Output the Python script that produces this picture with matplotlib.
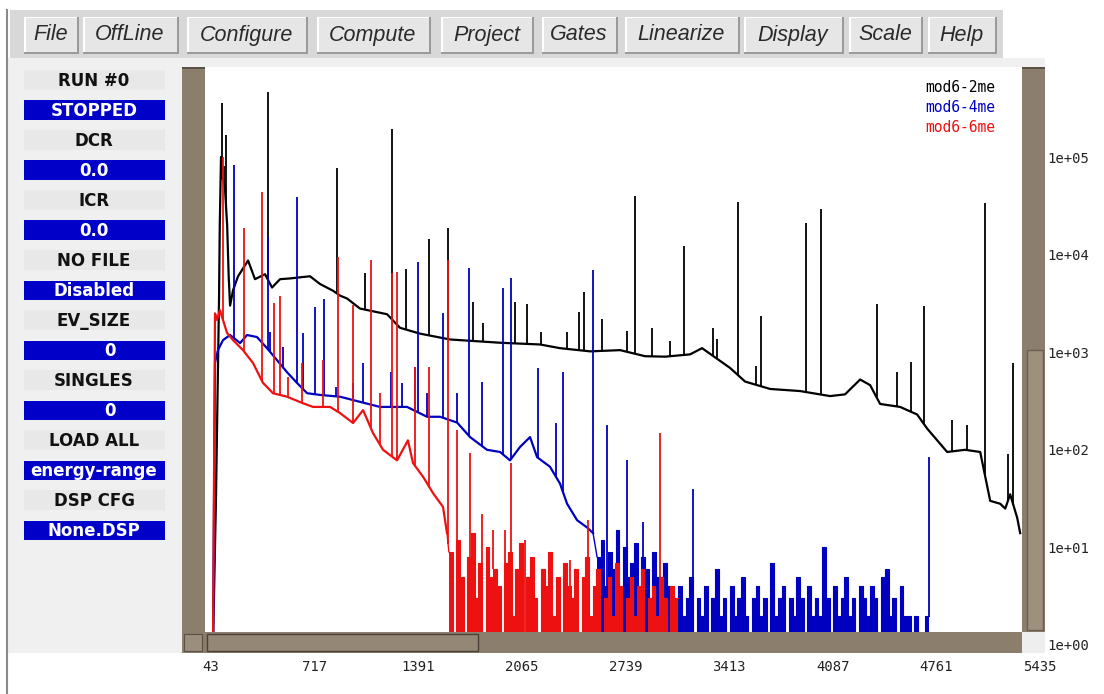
import numpy as np
import matplotlib
matplotlib.use('Agg')
import matplotlib.pyplot as plt
from matplotlib.patches import Rectangle
from matplotlib.lines import Line2D

# ── Spectrum data (channel, counts) ──
# counts of 1 mean an empty channel (sits on the bottom edge)
black_ch = [56, 75, 95, 100, 108, 120, 133, 148, 158, 167, 186, 219, 284, 329, 394, 440,
            492, 557, 687, 752, 837, 882, 928, 1012, 1188, 1272, 1402, 1598, 1923, 2183,
            2313, 2509, 2704, 2866, 2997, 3159, 3237, 3419, 3517, 3680, 3874, 4070, 4167,
            4265, 4330, 4395, 4525, 4636, 4701, 4831, 4948, 5046, 5111, 5176, 5209, 5241,
            5287, 5306]
black_counts = [1, 30, 3400, 20000, 100000, 60000, 50000, 20000, 6000, 3000, 4300, 6000,
                8700, 5600, 6300, 4600, 5600, 5700, 6000, 5000, 4260, 3800, 3550, 2800,
                2450, 1780, 1550, 1350, 1250, 1200, 1100, 1020, 1050, 910, 900, 950, 1100,
                690, 500, 420, 400, 355, 370, 525, 460, 295, 275, 230, 165, 95, 100, 95,
                30, 28, 25, 35, 20, 14]
black_peak_ch = [114, 127, 140, 414, 863, 1045, 1220, 1311, 1461, 1585, 1747, 1812, 2021,
                 2099, 2190, 2359, 2437, 2470, 2587, 2749, 2801, 2912, 3029, 3120, 3309,
                 3335, 3472, 3589, 3621, 3914, 4011, 4376, 4506, 4597, 4681, 4864, 4961,
                 5078, 5228, 5261]
black_peak_counts = [360000, 80000, 170000, 460000, 78000, 6500, 195000, 7200, 14500,
                     18600, 3300, 2000, 3300, 3100, 1600, 1600, 2600, 4100, 2200, 1660,
                     40000, 1780, 1300, 12300, 1780, 1380, 35000, 720, 2340, 21000, 29000,
                     3100, 630, 800, 2950, 200, 180, 34000, 90, 780]

blue_ch = [56, 69, 88, 121, 167, 232, 277, 342, 407, 472, 537, 602, 668, 752, 882, 1012,
           1142, 1318, 1448, 1533, 1644, 1728, 1838, 1923, 1988, 2053, 2118, 2164, 2248,
           2313, 2359, 2424, 2489, 2528]
blue_counts = [1, 776, 1050, 1330, 1500, 1240, 1500, 1430, 1100, 830, 625, 485, 380, 365,
               350, 310, 275, 275, 218, 218, 190, 135, 100, 95, 78, 107, 135, 84, 67, 45,
               28, 19, 16, 14]
blue_noise_start = 2554   # first channel of the low-count tail, 24-channel bins
blue_noise = [8, 12, 4, 9, 6, 15, 3, 10, 5, 7, 11, 4, 8, 6, 3, 9, 5, 2, 7, 4,
              3, 1, 4, 2, 3, 5, 1, 3, 2, 4, 1, 3, 6, 2, 3, 1, 4, 2, 3, 5,
              2, 1, 3, 4, 2, 3, 1, 7, 2, 3, 4, 1, 3, 2, 5, 3, 1, 4, 2, 3,
              2, 10, 3, 1, 4, 2, 3, 5, 2, 3, 1, 4, 3, 2, 4, 3, 1, 5, 6, 2,
              3, 1, 4, 2, 2, 1, 2, 1, 1, 2]
blue_peak_ch = [193, 414, 427, 511, 602, 641, 720, 778, 856, 967, 1032, 1214, 1285, 1370,
                1390, 1448, 1552, 1644, 1722, 1806, 1943, 1995, 2170, 2287, 2333, 2528,
                2619, 2749, 2854, 2919, 3179, 4714]
blue_peak_counts = [83000, 15000, 1600, 1130, 39000, 1580, 2900, 3500, 440, 485, 776, 625,
                    485, 700, 8400, 380, 2500, 380, 7300, 495, 4500, 5700, 690, 188, 625,
                    6900, 180, 78, 18, 9, 40, 84]

red_ch = [56, 69, 82, 101, 147, 186, 251, 316, 381, 446, 537, 641, 707, 817, 882, 967,
          1032, 1097, 1162, 1253, 1324, 1357, 1422, 1487, 1552, 1578]
red_counts = [1, 2500, 2140, 2700, 1580, 1330, 1050, 776, 485, 380, 350, 300, 275, 275,
              238, 188, 255, 148, 100, 78, 125, 73, 53, 36, 26, 14]
red_noise_start = 1590
red_noise = [9, 1, 12, 5, 1, 8, 14, 3, 7, 1, 10, 5, 6, 4, 1, 7, 9, 2, 6, 11,
             1, 5, 8, 3, 1, 6, 4, 9, 2, 5, 1, 7, 4, 3, 6, 1, 5, 8, 2, 4,
             6, 1, 3, 5, 2, 7, 4, 1, 3, 5, 2, 4, 6, 1, 3, 4, 2, 5, 3, 1, 4, 3]
red_peak_ch = [121, 258, 375, 453, 492, 544, 635, 772, 869, 967, 1084, 1142, 1220, 1253,
               1370, 1461, 1585, 1644, 1728, 1806, 1878, 1956, 1995, 2086, 2379, 2496, 2964]
red_peak_counts = [100000, 18600, 44000, 3200, 3800, 560, 776, 830, 9500, 3050, 8800, 380,
                   6500, 6700, 700, 700, 8800, 160, 93, 22, 15, 15, 73, 12, 7.4, 19, 150]
noise_bin = 24

series_names = ['mod6-2me', 'mod6-4me', 'mod6-6me']
xtick_vals = [43, 717, 1391, 2065, 2739, 3413, 4087, 4761, 5435]
ytick_vals = [1, 10, 100, 1000, 10000, 100000]
ytick_labels = ['1e+00', '1e+01', '1e+02', '1e+03', '1e+04', '1e+05']

menu_labels = ['File', 'OffLine', 'Configure', 'Compute', 'Project', 'Gates',
               'Linearize', 'Display', 'Scale', 'Help']
panel_labels = ['RUN #0', 'STOPPED', 'DCR', '0.0', 'ICR', '0.0', 'NO FILE', 'Disabled',
                'EV_SIZE', '0', 'SINGLES', '0', 'LOAD ALL', 'energy-range', 'DSP CFG',
                'None.DSP']

# ── Layout (pixels of the 1104x694 window) ──
W, H = 1104, 694
menu_x0 = [24, 83, 187, 317, 441, 542, 625, 744, 849, 928]
menu_x1 = [77, 177, 306, 429, 532, 616, 738, 842, 921, 995]
BROWN = '#8c7e6d'
DARK = '#5a5043'
BLUE_UI = '#0000c8'
C_BLACK, C_BLUE, C_RED = 'black', '#0000c0', '#ee1111'

fig = plt.figure(figsize=(W / 100, H / 100), dpi=100, facecolor='white')


def rect(x0, y0, x1, y1, fc, ec='none', lw=0, z=1):
    fig.add_artist(Rectangle((x0 / W, 1 - y1 / H), (x1 - x0) / W, (y1 - y0) / H,
                             transform=fig.transFigure, facecolor=fc, edgecolor=ec,
                             linewidth=lw, zorder=z))


def text(x, y, s, **kw):
    fig.text(x / W, 1 - y / H, s, **kw)


# window background + left border
rect(8, 58, 1045, 653, '#f0f0f0', z=-2)
fig.add_artist(Line2D([7 / W, 7 / W], [1 - 10 / H, 0], color='#8a8a8a', lw=1.5,
                      transform=fig.transFigure, zorder=5))

# ── Menu bar ──
rect(10, 10, 1003, 58, '#d8d8d8', z=1)
for lbl, x0, x1 in zip(menu_labels, menu_x0, menu_x1):
    rect(x0, 17, x1 + 2, 54, '#9a9a9a', z=2)
    rect(x0, 17, x1, 52, '#ffffff', z=2)
    rect(x0 + 1.5, 18.5, x1 - 0.5, 51.5, '#e6e6e6', z=2)
    text((x0 + x1) / 2, 35, lbl, ha='center', va='center', fontsize=15.5,
         family='Liberation Sans', style='italic', color='#2a2a2a', zorder=3)

# ── Status panel ──
for i, lbl in enumerate(panel_labels):
    yc = 80 + 30 * i
    if i % 2:
        rect(24, yc - 9.5, 165, yc + 9.5, BLUE_UI, z=2)
        col = 'white'
    else:
        rect(24, yc - 10, 165, yc + 10, '#e8e8e8', z=2)
        col = '#111111'
    xc = 110 if lbl == '0' else 94
    text(xc, yc + 6, lbl, ha='center', va='baseline', fontsize=12, family='DejaVu Sans',
         weight='bold', color=col, zorder=3)

# ── Spectrum axes ──
ax = fig.add_axes([204.4 / W, 1 - 645 / H, (1040 - 204.4) / W, (645 - 67) / H])
ax.set_facecolor('white')
ax.set_yscale('log')
ax.set_xlim(0, 5435)
ax.set_ylim(1, 8.36e5)

spectra = [
    (black_ch, black_counts, None, None, black_peak_ch, black_peak_counts, C_BLACK),
    (blue_ch, blue_counts, blue_noise_start, blue_noise, blue_peak_ch, blue_peak_counts, C_BLUE),
    (red_ch, red_counts, red_noise_start, red_noise, red_peak_ch, red_peak_counts, C_RED),
]
for z, (ch, counts, n0, noise, pk_ch, pk_counts, col) in enumerate(spectra):
    zz = 2 + z
    x = np.array(ch, float)
    y = np.array(counts, float)
    ax.plot(x, y, color=col, lw=1.6, zorder=zz)
    if noise is not None:
        edges = n0 + noise_bin * np.arange(len(noise) + 1)
        vals = np.array(noise + [noise[-1]], float)
        # join the smooth part to the first bin
        ax.plot([x[-1], edges[0]], [y[-1], vals[0]], color=col, lw=1.0, zorder=zz)
        ax.fill_between(edges, 1, vals, step='post', color=col, lw=0, zorder=zz)
        ax.step(edges, vals, where='post', color=col, lw=0.8, zorder=zz)
        x = np.concatenate([x, np.repeat(edges, 2)[1:-1]])
        y = np.concatenate([y, np.repeat(noise, 2)])
    base = 10 ** np.interp(pk_ch, x, np.log10(y))
    ax.vlines(pk_ch, base, pk_counts, color=col, lw=1.3, zorder=zz)

for s in ax.spines.values():
    s.set_visible(False)
ax.set_xticks(xtick_vals)
ax.set_xticklabels([str(v) for v in xtick_vals])
ax.yaxis.tick_right()
ax.set_yticks(ytick_vals)
ax.set_yticklabels(ytick_labels)
ax.set_yticks([], minor=True)
ax.tick_params(axis='x', length=0, pad=10.5, labelsize=10, labelcolor='#222222')
ax.tick_params(axis='y', length=0, pad=5, labelsize=10, labelcolor='#222222')
for t in ax.get_xticklabels() + ax.get_yticklabels():
    t.set_family('DejaVu Sans Mono')

# series names at top right
for i, (name, col) in enumerate(zip(series_names, [C_BLACK, C_BLUE, C_RED])):
    text(995, 87 + 20 * i, name, ha='right', va='center', fontsize=10.5,
         family='DejaVu Sans Mono', color=col, zorder=6)

# ── Scroll frame around the plot ──
rect(182, 67, 205, 653, BROWN, z=4)                       # left bar
rect(182, 67, 205, 69, DARK, z=4)
rect(184, 634, 202, 651, '#9b8e7c', ec=DARK, lw=0.8, z=4)  # corner button
rect(1022, 67, 1045, 632, BROWN, z=4)                     # right bar
rect(1022, 67, 1045, 69, DARK, z=4)
rect(1027, 350, 1043, 630, '#9d907d', ec='#6b5f50', lw=1.0, z=4)
rect(205, 632, 1022, 653, BROWN, z=4)                     # bottom bar
rect(207, 634, 478, 651, '#958775', ec='#4a4238', lw=1.0, z=4)
rect(1022, 632, 1045, 653, '#eeeeee', z=4)

fig.savefig('out.png', dpi=100, facecolor='white')
